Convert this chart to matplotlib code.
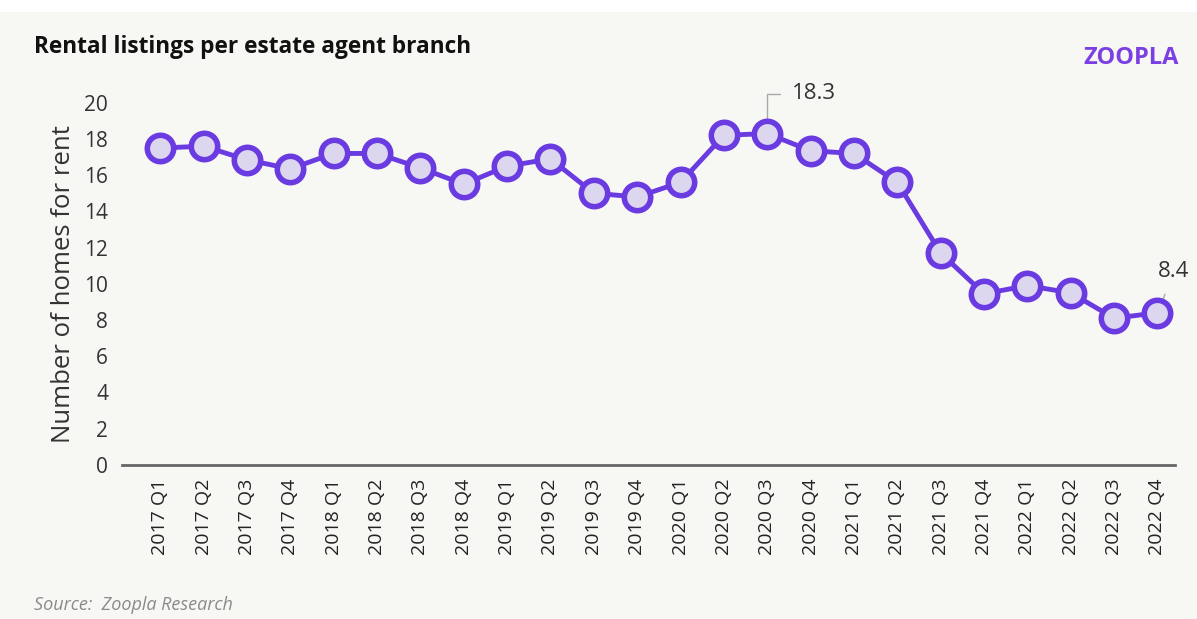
import matplotlib.pyplot as plt
import matplotlib.patches as mpatches

quarters = ['2017 Q1', '2017 Q2', '2017 Q3', '2017 Q4',
            '2018 Q1', '2018 Q2', '2018 Q3', '2018 Q4',
            '2019 Q1', '2019 Q2', '2019 Q3', '2019 Q4',
            '2020 Q1', '2020 Q2', '2020 Q3', '2020 Q4',
            '2021 Q1', '2021 Q2', '2021 Q3', '2021 Q4',
            '2022 Q1', '2022 Q2', '2022 Q3', '2022 Q4']
listings = [17.5, 17.6, 16.85, 16.35,
            17.2, 17.2, 16.4, 15.5,
            16.5, 16.9, 15.0, 14.8,
            15.6, 18.2, 18.3, 17.35,
            17.2, 15.6, 11.7, 9.45,
            9.9, 9.5, 8.1, 8.4]
y_ticks = [0, 2, 4, 6, 8, 10, 12, 14, 16, 18, 20]

bg = '#f7f7f4'
purple = '#6a3be0'
plt.rcParams['font.family'] = ['Open Sans', 'DejaVu Sans']

fig = plt.figure(figsize=(11.97, 6.19), dpi=100, facecolor=bg)
# white strip at the top of the image
fig.patches.append(mpatches.Rectangle((0, 0.98), 1, 0.02, transform=fig.transFigure,
                                      facecolor='white', edgecolor='none'))
ax = fig.add_axes([0.102, 0.249, 0.880, 0.585])
ax.set_facecolor(bg)

x = list(range(len(quarters)))
ax.plot(x, listings, color=purple, lw=3.5, marker='o', markersize=19,
        markerfacecolor='#ddd6ef', markeredgecolor=purple, markeredgewidth=4,
        clip_on=False, zorder=3)

ax.set_xlim(-0.88, len(quarters) - 1 + 0.415)
ax.set_ylim(0, 20)
ax.set_yticks(y_ticks)
ax.tick_params(axis='y', length=0, labelsize=15, colors='#333333', pad=10)
ax.set_xticks(x)
ax.set_xticklabels(quarters, rotation=90, fontsize=14, color='#222222')
ax.tick_params(axis='x', length=0, pad=10)
for s in ['top', 'right', 'left']:
    ax.spines[s].set_visible(False)
ax.spines['bottom'].set_color('#666666')
ax.spines['bottom'].set_linewidth(2)
ax.set_ylabel('Number of homes for rent', fontsize=18.5, color='#333333', labelpad=6)

# annotations
i_peak = quarters.index('2020 Q3')
ax.annotate(f'{listings[i_peak]}', xy=(i_peak, listings[i_peak]),
            xytext=(i_peak + 0.58, 20.5), fontsize=16, color='#333333',
            ha='left', va='center',
            arrowprops=dict(arrowstyle='-', color='#aaaaaa', lw=1,
                            connectionstyle='angle,angleA=0,angleB=90,rad=0',
                            shrinkA=7, shrinkB=0),
            annotation_clip=False, zorder=2)
i_last = len(quarters) - 1
ax.annotate(f'{listings[i_last]}', xy=(i_last, listings[i_last]),
            xytext=(i_last + 0.36, 10.66), fontsize=16, color='#333333',
            ha='center', va='center',
            arrowprops=dict(arrowstyle='-', color='#aaaaaa', lw=1, shrinkA=7, shrinkB=0,
                            relpos=(0.4, 0)),
            annotation_clip=False, zorder=2)

fig.text(0.028, 0.924, 'Rental listings per estate agent branch', fontsize=16.3,
         fontweight='bold', color='#111111', va='center')
fig.text(0.985, 0.906, 'ZOOPLA', fontsize=17, fontweight='bold', color='#7b3fe4',
         ha='right', va='center')
fig.text(0.028, 0.022, 'Source:  Zoopla Research', fontsize=13, style='italic',
         color='#8a8a8a', va='center')

fig.savefig('out.png', dpi=100, facecolor=bg)
